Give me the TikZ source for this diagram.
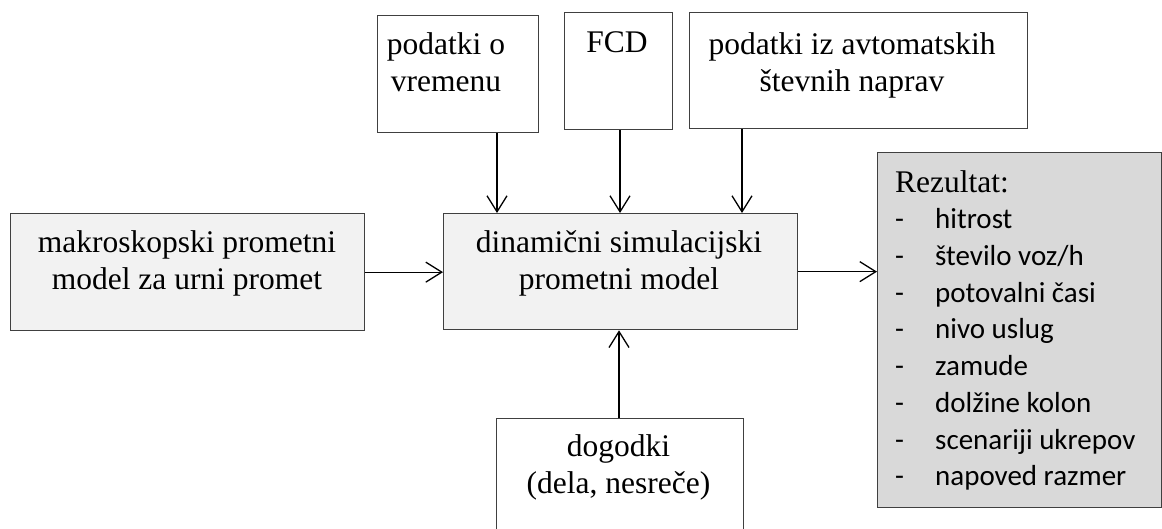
\documentclass[tikz,border=0pt]{standalone}
\usepackage{fontspec}
\setmainfont{Liberation Serif}
\newfontfamily\listfont{Carlito}
\usetikzlibrary{arrows.meta}
\definecolor{boxline}{HTML}{404040}
\definecolor{lightfill}{HTML}{F2F2F2}
\definecolor{darkfill}{HTML}{D9D9D9}
\tikzset{
  box/.style={draw=boxline, line width=1.3pt, rectangle, inner sep=0pt, anchor=north west},
  txt/.style={inner sep=0pt, align=center, anchor=north, font=\fontsize{31.5}{36.5}\selectfont},
  conn/.style={line width=1.3pt, -{Straight Barb[length=16pt,width=20pt,line width=1.3pt]}},
}
\begin{document}
\begin{tikzpicture}[x=1pt,y=-1pt]
\useasboundingbox (0,0) rectangle (1162,528);
\clip (0,0) rectangle (1162,528);
% boxes
\node[box, fill=lightfill, minimum width=354pt, minimum height=117pt] (makro) at (10,213) {};
\node[box, fill=lightfill, minimum width=354pt, minimum height=116pt] (dyn) at (443,213) {};
\node[box, fill=white, minimum width=161pt, minimum height=117pt] (vreme) at (377,15) {};
\node[box, fill=white, minimum width=108pt, minimum height=117pt] (fcd) at (564,12) {};
\node[box, fill=white, minimum width=338pt, minimum height=116pt] (avto) at (689,12) {};
\node[box, fill=darkfill, minimum width=284pt, minimum height=355pt] (rez) at (877,152) {};
\node[box, fill=white, minimum width=247pt, minimum height=130pt] (dog) at (496,418) {};
% texts
\node[txt] (makrot) at (187,227.1) {\strut makroskopski prometni\\model za urni promet};
\node[txt] (dynt) at (619,227.1) {\strut dinamični simulacijski\\prometni model};
\node[txt] (vremet) at (446,29.1) {\strut podatki o\\vremenu};
\node[txt] (fcdt) at (617,27.1) {\strut FCD};
\node[txt] (avtot) at (852,29.1) {\strut podatki iz avtomatskih\\števnih naprav};
\node[txt] (dogt) at (618.5,431.1) {\strut dogodki\\(dela, nesreče)};
\node[inner sep=0pt, anchor=north west, align=left, font=\fontsize{29}{36.7}\selectfont] (rezt) at (895,166.3)
  {\strut{\fontsize{31.5}{36.7}\selectfont Rezultat:}\\
   {\listfont\makebox[40pt][l]{-}hitrost}\\
   {\listfont\makebox[40pt][l]{-}število voz/h}\\
   {\listfont\makebox[40pt][l]{-}potovalni časi}\\
   {\listfont\makebox[40pt][l]{-}nivo uslug}\\
   {\listfont\makebox[40pt][l]{-}zamude}\\
   {\listfont\makebox[40pt][l]{-}dolžine kolon}\\
   {\listfont\makebox[40pt][l]{-}scenariji ukrepov}\\
   {\listfont\makebox[40pt][l]{-}napoved razmer}};
% connector x positions
\coordinate (xa) at (497,0);
\coordinate (xb) at (620,0);
\coordinate (xc) at (742,0);
\coordinate (xd) at (619,0);
% connectors
\draw[conn] (vreme.south -| xa) -- (dyn.north -| xa);
\draw[conn] (fcd.south -| xb) -- (dyn.north -| xb);
\draw[conn] (avto.south -| xc) -- (dyn.north -| xc);
\draw[conn] (dog.north -| xd) -- (dyn.south -| xd);
\draw[conn] (makro.east) -- (dyn.west |- makro.east);
\draw[conn] (dyn.east) -- (rez.west |- dyn.east);
\end{tikzpicture}
\end{document}
